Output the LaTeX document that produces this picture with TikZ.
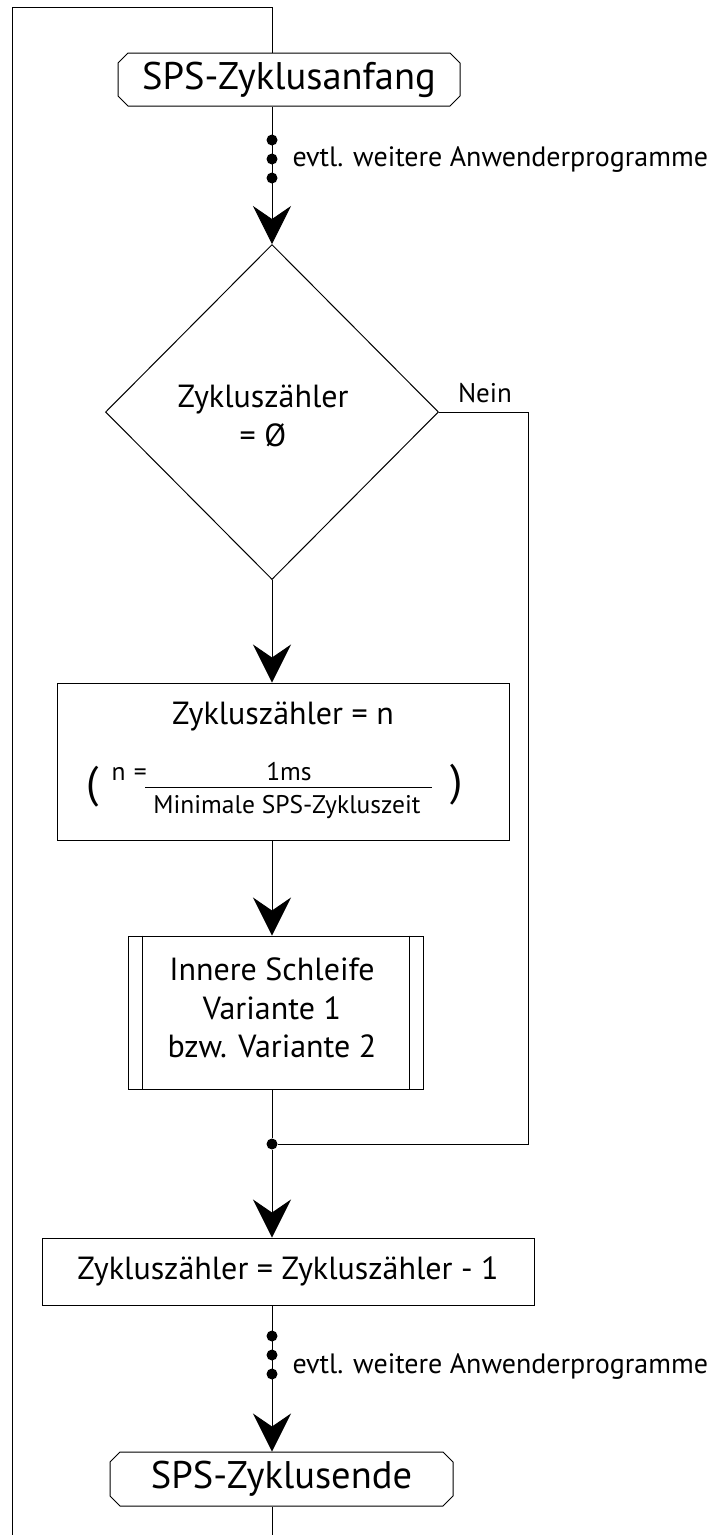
\documentclass[tikz,border=0pt]{standalone}
\usepackage{fontspec}
\setmainfont{PT Sans}
\usetikzlibrary{arrows.meta,shapes.geometric,shapes.misc,calc}
\newcommand\FBig{\fontsize{38.5}{46}\selectfont}
\newcommand\FMain{\fontsize{32}{38.5}\selectfont}
\newcommand\FSmall{\fontsize{25.5}{30}\selectfont}
\newcommand\FNote{\fontsize{28}{33}\selectfont}
\newcommand\FNein{\fontsize{27}{32}\selectfont}
\newcommand\FParen{\fontsize{44}{50}\selectfont}
\begin{document}
\begin{tikzpicture}[x=1pt,y=-1pt,line width=1pt,
  flow/.style={-{Stealth[length=38pt,width=38pt,inset=13pt]}},
  term/.style={draw,chamfered rectangle,chamfered rectangle xsep=5pt,chamfered rectangle ysep=5pt,inner sep=0pt,font=\FBig},
  procbox/.style={draw,rectangle,inner sep=0pt,font=\FMain},
  dec/.style={draw,diamond,aspect=1,inner sep=0pt},
  dotnode/.style={circle,fill,inner sep=0pt,minimum size=11pt},
  txt/.style={inner sep=0pt}]
\useasboundingbox (0,0) rectangle (712,1535);
% nodes
\node[term,minimum width=342pt,minimum height=53pt] (start) at (289,79.5) {SPS-Zyklusanfang};
\node[dec,minimum width=333pt,minimum height=335pt] (dia) at (272,412) {};
\node[txt,align=center,font=\FMain] (diat) at (263,416) {Zyklusz\"ahler\\= Ø};
\node[txt,font=\FNein,anchor=base] (nein) at (485,402) {Nein};
\node[procbox,minimum width=452pt,minimum height=157pt] (b2) at (283,761.5) {};
\node[txt,font=\FMain] (b2t) at (283,717) {Zyklusz\"ahler = n};
\node[txt,font=\FParen] (pl) at (93,787) {(};
\node[txt,font=\FParen] (pr) at (457,785) {)};
\node[txt,font=\FSmall,anchor=base west] (neq) at (111,780) {n\,\,=};
\node[txt,font=\FSmall] (num) at (289,772) {1ms};
\node[txt,font=\FSmall] (den) at (287,807) {Minimale SPS-Zykluszeit};
\coordinate (fl) at (145,787);
\coordinate (fr) at (432,787);
\node[procbox,minimum width=295pt,minimum height=153pt] (b3) at (275.5,1012.5) {};
\node[txt,align=center,font=\FMain] (b3t) at (272,1008) {Innere Schleife\\Variante 1\\bzw. Variante 2};
\node[dotnode] (j) at (272,1144) {};
\node[procbox,minimum width=492pt,minimum height=67pt] (b4) at (288,1271.5) {Zyklusz\"ahler = Zyklusz\"ahler - 1};
\node[term,minimum width=343pt,minimum height=54pt] (end) at (281.5,1479) {SPS-Zyklusende};
% dots
\node[dotnode] (d1) at (272,140) {};
\node[dotnode] (d2) at (272,159) {};
\node[dotnode] (d3) at (272,178) {};
\node[txt,font=\FNote,anchor=base west] (e1) at (292,166) {evtl. weitere Anwenderprogramme};
\node[dotnode] (d4) at (272,1336) {};
\node[dotnode] (d5) at (272,1355) {};
\node[dotnode] (d6) at (272,1374) {};
\node[txt,font=\FNote,anchor=base west] (e2) at (292,1373) {evtl. weitere Anwenderprogramme};
% predefined process inner lines
\draw ([xshift=15pt]b3.north west) -- ([xshift=15pt]b3.south west);
\draw ([xshift=-14pt]b3.north east) -- ([xshift=-14pt]b3.south east);
% fraction bar
\draw[line width=0.9pt] (fl) -- (fr);
% loop coordinates
\coordinate (tl) at (12,7);
\coordinate (bl) at (12,1535);
\coordinate (bb) at (272,1535);
\coordinate (nr) at (528,412);
% connectors
\draw (bl) -- (tl) -- (tl -| dia.north) -- (dia.north |- start.north);
\draw[flow] (dia.north |- start.south) -- (dia.north);
\draw[flow] (dia.south) -- (dia.south |- b2.north);
\draw[flow] (dia.south |- b2.south) -- (dia.south |- b3.north);
\draw (dia.south |- b3.south) -- (j);
\draw[flow] (j) -- (j |- b4.north);
\draw (dia.east) -- (nr) -- (nr |- j) -- (j);
\draw[flow] (j |- b4.south) -- (j |- end.north);
\draw (j |- end.south) -- (bb);
\end{tikzpicture}
\end{document}
